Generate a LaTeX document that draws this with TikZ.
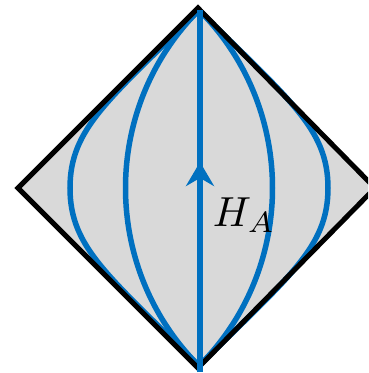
\documentclass[tikz,border=0pt]{standalone}
\usetikzlibrary{arrows.meta}
\definecolor{hblue}{RGB}{0,112,192}
\definecolor{hgray}{RGB}{217,217,217}
\begin{document}
\begin{tikzpicture}[x=1pt,y=-1pt,
  bluecurve/.style={hblue,line width=5.5pt},
  edge/.style={black,line width=5pt,line join=miter}]
\useasboundingbox (0,0) rectangle (368,373);
\clip (0,0) rectangle (368,373);
\coordinate (T) at (198,8);
\coordinate (L) at (18,188);
\coordinate (B) at (198,368);
\coordinate (R) at (375,188);
\coordinate (ct) at (199,10);
\coordinate (cb) at (199,366);
\coordinate (vt) at (200,10);
\coordinate (vb) at (200,372);
\coordinate (tip) at (200,162);
\fill[hgray] (T)--(R)--(B)--(L)--cycle;
% outer curves
\draw[bluecurve] (ct) .. controls (109,100) and (70,128) .. (70,188) .. controls (70,248) and (109,276) .. (cb);
\draw[bluecurve] (ct) .. controls (289,100) and (328,128) .. (328,188) .. controls (328,248) and (289,276) .. (cb);
% inner curves
\draw[bluecurve] (ct) .. controls (101,108) and (101,268) .. (cb);
\draw[bluecurve] (ct) .. controls (297,108) and (297,268) .. (cb);
% diamond
\draw[edge] (T)--(R)--(B)--(L)--cycle;
% vertical line with arrow
\draw[bluecurve] (vb) -- (vt);
\draw[bluecurve,-{Stealth[length=24pt,width=28pt,inset=8pt]}] (vb) -- (tip);
\node[anchor=base west,inner sep=0pt,scale=4.2] (ha) at (212,226) {$H_A$};
\end{tikzpicture}
\end{document}
